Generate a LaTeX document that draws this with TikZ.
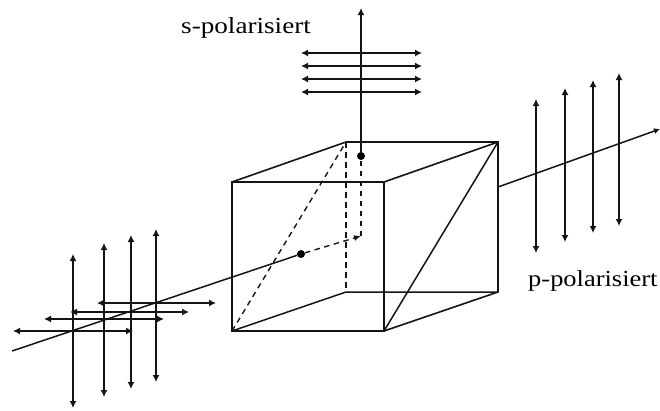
\documentclass[tikz,border=0pt]{standalone}
\usepackage{fontspec}
\setmainfont{Liberation Serif}
\usetikzlibrary{arrows.meta}
\tikzset{
  x=1pt,y=-1pt,
  edge/.style={line width=1.6pt,black!92},
  thin edge/.style={line width=1.5pt,black!92},
  hidden/.style={line width=1.4pt,dash pattern=on 5.5pt off 4.5pt,black!92},
  wave/.style={line width=1.3pt,black!92,{Latex[length=7pt,width=7pt]}-{Latex[length=7pt,width=7pt]}},
  ray/.style={line width=1.5pt,black!92},
  up ray/.style={line width=1.7pt,black!92,-{Latex[length=7pt,width=7pt]}},
  dot/.style={circle,fill=black,inner sep=0pt,minimum width=8pt},
  caption/.style={inner sep=0pt,anchor=base west,font=\fontsize{23pt}{25pt}\selectfont}
}
\begin{document}
\begin{tikzpicture}
\useasboundingbox (0,0) rectangle (660,410);
% cube corners
\coordinate (fa) at (232,182); \coordinate (fb) at (384,182);
\coordinate (fc) at (384,331); \coordinate (fd) at (232,331);
\coordinate (ba) at (346,142); \coordinate (bb) at (498,142);
\coordinate (bc) at (498,292); \coordinate (bd) at (346,292);
\node[dot] (d1) at (301,254) {};
\node[dot] (d2) at (361,156) {};
\coordinate (turn) at (361,236);
\coordinate (beamstart) at (12,351);
\coordinate (beamout) at (498,187);
\coordinate (beamend) at (660,129);
\coordinate (sup) at (361,8);
% hidden
\draw[hidden] (fd) -- (ba);
\draw[hidden] (ba) -- (bd);
\draw[hidden,-{Latex[length=7pt,width=6pt]}] (d1) -- (turn);
\draw[hidden] (turn) -- (d2);
% cube
\draw[thin edge] (bd) -- (bc) (bd) -- (fd);
\draw[thin edge] (fc) -- (bb);
\draw[edge] (fa) rectangle (fc);
\draw[edge] (fa) -- (ba) -- (bb) -- (bc) -- (fc) (fb) -- (bb);
% beams
\draw[ray] (beamstart) -- (d1);
\draw[ray,-{Latex[length=6pt,width=6pt]}] (beamout) -- (beamend);
\draw[up ray] (d2) -- (sup);
% left waves
\foreach \n/\x/\t/\b in {a/73/254/408,b/104/243/397,c/131/235/389,e/156/229/382}{
  \coordinate (l\n t) at (\x,\t); \coordinate (l\n b) at (\x,\b);
  \draw[wave] (l\n t) -- (l\n b);
}
\foreach \n/\y/\l/\r in {a/331/13/133,b/319/44/164,c/312/70/189,e/303/97/216}{
  \coordinate (h\n l) at (\l,\y); \coordinate (h\n r) at (\r,\y);
  \draw[wave] (h\n l) -- (h\n r);
}
% s waves
\foreach \n/\y in {a/53,b/66,c/79,e/92}{
  \coordinate (s\n l) at (301,\y); \coordinate (s\n r) at (422,\y);
  \draw[wave] (s\n l) -- (s\n r);
}
% p waves
\foreach \n/\x/\t/\b in {a/536/99/253,b/565/88/242,c/593/80/233,e/619/73/226}{
  \coordinate (r\n t) at (\x,\t); \coordinate (r\n b) at (\x,\b);
  \draw[wave] (r\n t) -- (r\n b);
}
\node[caption,xscale=1.18] (slabel) at (181,33) {s-polarisiert};
\node[caption,xscale=1.15] (plabel) at (528,286) {p-polarisiert};
\end{tikzpicture}
\end{document}
